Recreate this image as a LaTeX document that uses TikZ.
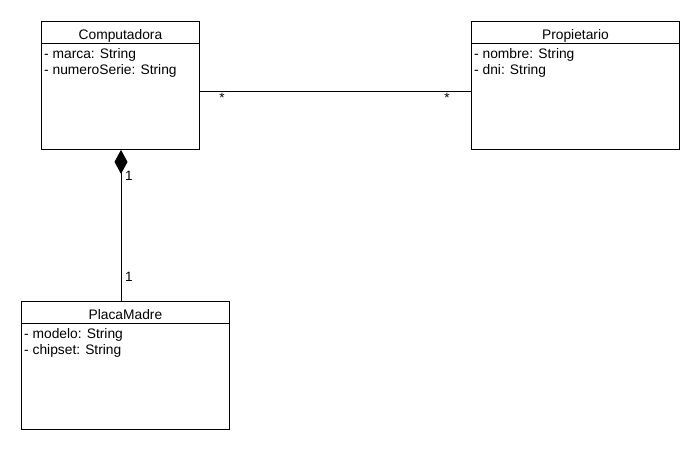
\documentclass[tikz,border=0pt]{standalone}
\usepackage{fontspec}
\setmainfont{Liberation Sans}
\usetikzlibrary{arrows.meta}
\begin{document}
\begin{tikzpicture}[x=1pt,y=-1pt,
  umlbox/.style={draw,line width=0.9pt,anchor=north west,inner sep=0pt},
  attr/.style={anchor=base west,inner sep=0pt,font=\fontsize{13.8}{16}\selectfont},
  title/.style={anchor=base,inner sep=0pt,font=\fontsize{13.8}{16}\selectfont},
  mult/.style={inner sep=0pt,font=\fontsize{13.5}{16}\selectfont},
  conn/.style={line width=0.9pt}]
\useasboundingbox (0,0) rectangle (700,450);

% class boxes
\node[umlbox,minimum width=158pt,minimum height=128pt] (comp) at (41,21) {};
\node[umlbox,minimum width=208pt,minimum height=128pt] (prop) at (471,21) {};
\node[umlbox,minimum width=208pt,minimum height=128pt] (placa) at (21,301) {};

% header separators
\draw[conn] ([yshift=-22pt]comp.north west) -- ([yshift=-22pt]comp.north east);
\draw[conn] ([yshift=-22pt]prop.north west) -- ([yshift=-22pt]prop.north east);
\draw[conn] ([yshift=-22pt]placa.north west) -- ([yshift=-22pt]placa.north east);

% class names
\node[title] (compname) at ([yshift=-18pt]comp.north) {Computadora};
\node[title] (propname) at ([yshift=-18pt]prop.north) {Propietario};
\node[title] (placaname) at ([yshift=-18pt]placa.north) {PlacaMadre};

% attributes
\node[attr] (compa1) at ([xshift=3pt,yshift=-37pt]comp.north west) {- marca: String};
\node[attr] (compa2) at ([xshift=3pt,yshift=-53pt]comp.north west) {- numeroSerie: String};
\node[attr] (propa1) at ([xshift=3pt,yshift=-37pt]prop.north west) {- nombre: String};
\node[attr] (propa2) at ([xshift=3pt,yshift=-53pt]prop.north west) {- dni: String};
\node[attr] (placaa1) at ([xshift=3pt,yshift=-37pt]placa.north west) {- modelo: String};
\node[attr] (placaa2) at ([xshift=3pt,yshift=-53pt]placa.north west) {- chipset: String};

% association Computadora -- Propietario
\coordinate (assocy) at (0,91);
\draw[conn] (comp.east |- assocy) -- (prop.west |- assocy);
\node[mult] (m1) at (222,98) {*};
\node[mult] (m2) at (447,98) {*};

% composition Computadora <>-- PlacaMadre
\coordinate (compx) at (121,0);
\draw[conn,{Diamond[length=24pt,width=13pt,fill=black]}-] (comp.south -| compx) -- (placa.north -| compx);
\node[mult] (m3) at (129,176) {1};
\node[mult] (m4) at (129,277) {1};
\end{tikzpicture}
\end{document}
